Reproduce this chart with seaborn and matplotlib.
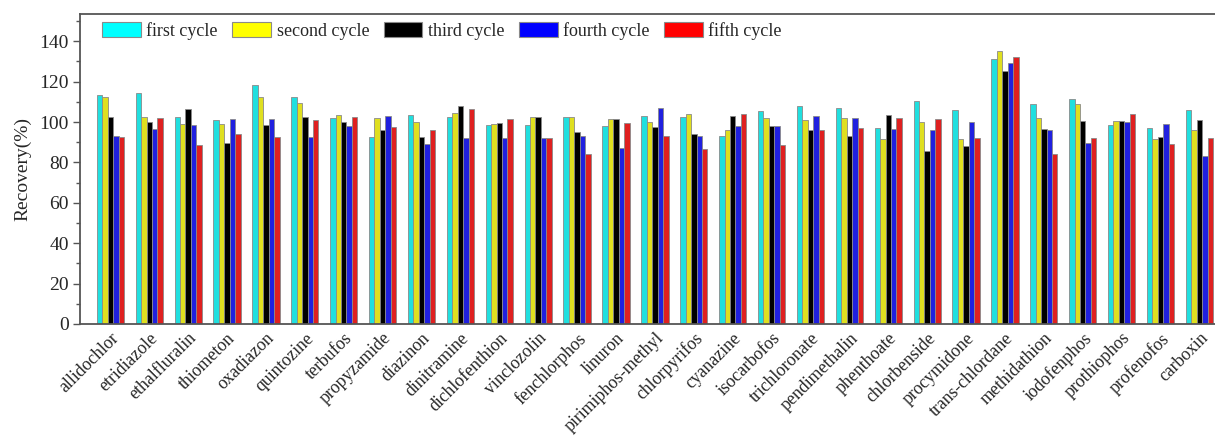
import numpy as np
import pandas as pd
import matplotlib
matplotlib.use("Agg")
import matplotlib.pyplot as plt
import seaborn as sns
from matplotlib.patches import Patch
from matplotlib.ticker import MultipleLocator

compounds = [
    "allidochlor", "etridiazole", "ethalfluralin", "thiometon", "oxadiazon",
    "quintozine", "terbufos", "propyzamide", "diazinon", "dinitramine",
    "dichlofenthion", "vinclozolin", "fenchlorphos", "linuron",
    "pirimiphos-methyl", "chlorpyrifos", "cyanazine", "isocarbofos",
    "trichloronate", "pendimethalin", "phenthoate", "chlorbenside",
    "procymidone", "trans-chlordane", "methidathion", "iodofenphos",
    "prothiophos", "profenofos", "carboxin",
]

cycles = ["first cycle", "second cycle", "third cycle", "fourth cycle", "fifth cycle"]

first_cycle = [113.3, 114.6, 102.7, 101.2, 118.1, 112.3, 101.9, 92.5, 103.7, 102.4,
               98.7, 98.4, 102.4, 98.1, 102.9, 102.5, 93.0, 105.5, 107.8, 106.8,
               97.1, 110.5, 106.2, 131.0, 109.0, 111.4, 98.6, 97.1, 106.2]
second_cycle = [112.3, 102.7, 99.0, 99.0, 112.6, 109.2, 103.7, 102.2, 99.8, 104.4,
                99.2, 102.4, 102.4, 101.4, 99.9, 104.0, 96.3, 102.2, 101.2, 102.2,
                91.8, 100.1, 91.8, 135.1, 102.2, 109.0, 100.4, 91.8, 96.1]
third_cycle = [102.7, 100.2, 106.7, 89.8, 98.7, 102.4, 100.2, 96.3, 92.5, 108.0,
               99.7, 102.7, 95.1, 101.7, 97.6, 94.0, 103.2, 98.2, 96.1, 93.0,
               103.5, 85.9, 88.2, 125.2, 96.7, 100.7, 100.4, 92.6, 101.2]
fourth_cycle = [93.3, 96.6, 98.7, 101.5, 101.5, 92.5, 98.2, 103.2, 89.2, 92.3,
                92.3, 92.3, 93.0, 87.2, 107.2, 93.2, 97.8, 98.2, 102.9, 102.2,
                96.6, 96.1, 100.2, 129.4, 96.1, 89.7, 100.1, 99.0, 83.1]
fifth_cycle = [92.5, 102.2, 88.5, 94.3, 92.5, 101.2, 102.4, 97.3, 96.3, 106.3,
               101.5, 92.3, 84.4, 99.7, 93.0, 86.7, 104.0, 88.4, 96.1, 96.9,
               102.2, 101.5, 92.3, 132.2, 84.4, 92.3, 104.0, 89.3, 92.3]

colors = ["#00FFFF", "#FFFF00", "#000000", "#0000FF", "#FF0000"]

series = [first_cycle, second_cycle, third_cycle, fourth_cycle, fifth_cycle]
df = pd.DataFrame({
    "compound": np.tile(compounds, len(cycles)),
    "cycle": np.repeat(cycles, len(compounds)),
    "recovery": np.concatenate(series),
})

sns.set_style("ticks")
plt.rcParams["font.family"] = ["Liberation Serif", "DejaVu Serif"]

fig = plt.figure(figsize=(12.15, 4.41), dpi=100)
ax = fig.add_axes([80 / 1215, 1 - 324 / 441, 1 - 80 / 1215, (324 - 14) / 441])

sns.barplot(data=df, x="compound", y="recovery", hue="cycle",
            order=compounds, hue_order=cycles, palette=colors,
            width=0.7, gap=0, edgecolor="#8a8a8a", linewidth=0.6,
            errorbar=None, legend=False, ax=ax)

ax.set_xlim(-0.78, 28.4)
ax.set_ylim(0, 153.5)
ax.yaxis.set_major_locator(MultipleLocator(20))
ax.yaxis.set_minor_locator(MultipleLocator(10))
ax.tick_params(axis="y", which="major", length=5, width=1, labelsize=14,
               color="#555555", pad=3)
ax.tick_params(axis="y", which="minor", length=3, width=1, color="#555555")
ax.tick_params(axis="x", length=0, labelsize=12.8, pad=4)
plt.setp(ax.get_xticklabels(), rotation=45, ha="right", rotation_mode="anchor")

for side in ["left", "bottom", "top"]:
    ax.spines[side].set_color("#555555")
    ax.spines[side].set_linewidth(1.3)
ax.spines["right"].set_visible(False)

ax.set_xlabel("")
ax.set_ylabel("Recovery(%)", fontsize=14, labelpad=6)

handles = [Patch(facecolor=c, edgecolor="#8a8a8a", linewidth=0.8) for c in colors]
ax.legend(handles, cycles, ncol=5, frameon=False, fontsize=13,
          loc="upper left", bbox_to_anchor=(0.01, 1.01),
          handlelength=2.15, handleheight=0.9, handletextpad=0.3,
          columnspacing=0.8, borderaxespad=0.2)

fig.savefig("out.png", dpi=100)
